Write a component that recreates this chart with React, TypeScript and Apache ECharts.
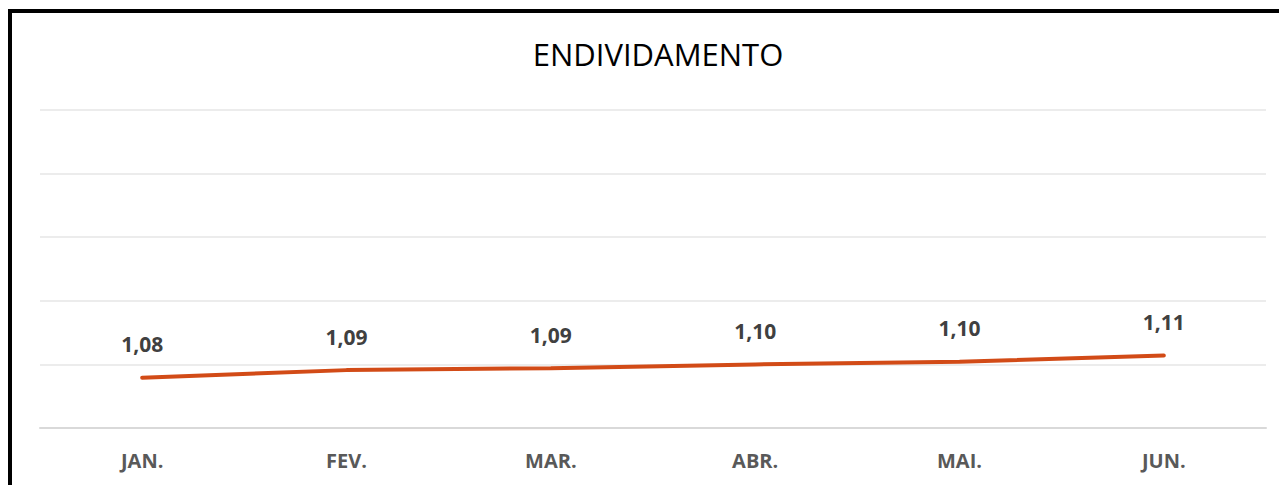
import React, { useEffect, useRef } from "react";
import * as echarts from "echarts";

const TITLE = "ENDIVIDAMENTO";
const MONTHS = ["JAN.", "FEV.", "MAR.", "ABR.", "MAI.", "JUN."];
const ENDIVIDAMENTO = [1.079, 1.091, 1.094, 1.1, 1.104, 1.114];
const Y_MIN = 1.0;
const Y_MAX = 1.5;
const Y_STEP = 0.1;

export default function App() {
  const ref = useRef<HTMLDivElement>(null);
  useEffect(() => {
    if (!ref.current) return;
    const chart = echarts.init(ref.current, null, { renderer: "svg" });
    chart.setOption({
      animation: false,
      backgroundColor: "#ffffff",
      title: {
        text: TITLE,
        left: 645,
        textAlign: "center",
        top: 25,
        textStyle: {
          fontFamily: "Open Sans",
          fontWeight: "normal",
          fontSize: 31,
          color: "#000000",
        },
      },
      graphic: [
        { type: "rect", shape: { x: 0, y: 1, width: 4, height: 476 }, style: { fill: "#000" }, z: 100 },
        { type: "rect", shape: { x: 0, y: 1, width: 1279, height: 4 }, style: { fill: "#000" }, z: 100 },
      ],
      grid: { left: 32, right: 21, top: 102, bottom: 57 },
      xAxis: {
        type: "category",
        data: MONTHS,
        boundaryGap: true,
        axisTick: { show: false },
        axisLine: { show: true, lineStyle: { color: "#d9d9d9", width: 2 } },
        axisLabel: {
          margin: 22,
          fontFamily: "Open Sans",
          fontWeight: "bold",
          fontSize: 20,
          color: "#595959",
        },
      },
      yAxis: {
        type: "value",
        min: Y_MIN,
        max: Y_MAX,
        interval: Y_STEP,
        axisLabel: { show: false },
        axisLine: { show: false },
        axisTick: { show: false },
        splitLine: { lineStyle: { color: "#e6e6e6", width: 1.5 } },
      },
      series: [
        {
          type: "line",
          data: ENDIVIDAMENTO,
          symbol: "circle",
          showSymbol: true,
          symbolSize: 2,
          lineStyle: { color: "#d24b17", width: 4, cap: "round" },
          itemStyle: { color: "#d24b17" },
          label: {
            show: true,
            position: "top",
            distance: 22,
            fontFamily: "Open Sans",
            fontWeight: "bold",
            fontSize: 21,
            color: "#404040",
            formatter: (p: any) => Number(p.value).toFixed(2).replace(".", ","),
          },
        },
      ],
    });
    return () => chart.dispose();
  }, []);
  return <div ref={ref} style={{ width: 1279, height: 477 }} />;
}
